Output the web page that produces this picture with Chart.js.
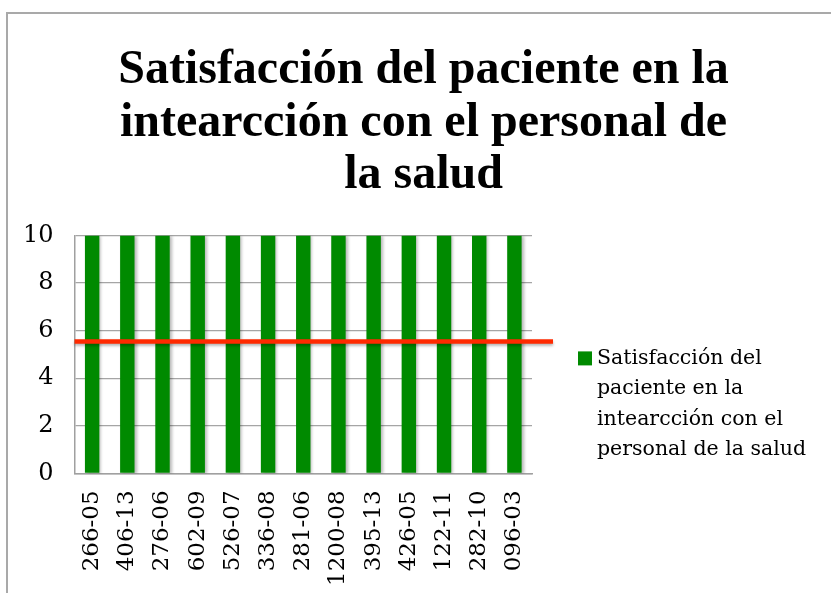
<!DOCTYPE html>
<html lang="es">
<head>
    <meta charset="UTF-8">
    <title>Satisfacción del paciente</title>
    <script src="https://cdn.jsdelivr.net/npm/chart.js"></script>
    <style>
        body { margin: 0; background: #ffffff; overflow: hidden; }
        #frame {
            position: absolute;
            left: 6px;
            top: 12px;
            width: 900px;
            height: 700px;
            border: 2px solid #a9a9a9;
        }
        #gcon {
            position: absolute;
            left: 0;
            top: 0;
            width: 831px;
            height: 593px;
        }
    </style>
</head>
<body>

    <div id="frame"></div>
    <div id="gcon">
        <canvas id="satChart"></canvas>
    </div>

<script>

// data
const categories = ["266-05", "406-13", "276-06", "602-09", "526-07", "336-08", "281-06",
                    "1200-08", "395-13", "426-05", "122-11", "282-10", "096-03"];
const satisfaction = [10, 10, 10, 10, 10, 10, 10, 10, 10, 10, 10, 10, 10];
const threshold = [5.54];

const seriesName = "Satisfacción del paciente en la intearcción con el personal de la salud";
const legendLines = ["Satisfacción del", "paciente en la", "intearcción con el", "personal de la salud"];
const titleLines = ["Satisfacción del paciente en la", "intearcción con el personal de", "la salud"];

const yMin = 0;
const yMax = 10;
const yStep = 2;

const barGreen = "#008a00";


// soft shadow under the bars, like the original
const shadowPlugin = {
    id: "shadow",
    beforeDatasetsDraw(chart) {
        const ctx = chart.ctx;
        ctx.save();
        ctx.shadowColor = "rgba(0, 0, 0, 0.28)";
        ctx.shadowBlur = 3;
        ctx.shadowOffsetX = 2;
        ctx.shadowOffsetY = 1;
    },
    afterDatasetsDraw(chart) {
        chart.ctx.restore();
    }
};

// red reference line, runs a bit past the plot on the right
const refLinePlugin = {
    id: "refLine",
    afterDatasetsDraw(chart) {
        const ctx = chart.ctx;
        const area = chart.chartArea;
        const y = chart.scales.y.getPixelForValue(threshold[0]);
        ctx.save();
        ctx.shadowColor = "rgba(0, 0, 0, 0.3)";
        ctx.shadowBlur = 3;
        ctx.shadowOffsetY = 2;
        ctx.strokeStyle = "#ff2a00";
        ctx.lineWidth = 4.5;
        ctx.beginPath();
        ctx.moveTo(area.left, y);
        ctx.lineTo(area.right + 21, y);
        ctx.stroke();
        ctx.restore();
    }
};

// the legend text wraps over four lines, the built-in legend can't get wide enough for it
const sideLegendPlugin = {
    id: "sideLegend",
    afterDraw(chart) {
        const ctx = chart.ctx;
        const area = chart.chartArea;
        const boxX = area.right + 46;
        let y = area.top + 123;
        ctx.save();
        ctx.fillStyle = chart.data.datasets[0].backgroundColor;
        ctx.fillRect(boxX, y - 7, 14, 14);
        ctx.fillStyle = "#000000";
        ctx.font = "20.5px 'DejaVu Serif', serif";
        ctx.textBaseline = "middle";
        legendLines.forEach(line => {
            ctx.fillText(line, boxX + 19, y);
            y += 30.5;
        });
        ctx.restore();
    }
};


const ctx = document.getElementById("satChart").getContext("2d");

const satChart = new Chart(ctx, {
    type: "bar",
    data: {
        labels: categories,
        datasets: [{
            label: seriesName,
            data: satisfaction,
            backgroundColor: barGreen,
            borderWidth: 0,
            categoryPercentage: 0.41,
            barPercentage: 1
        }]
    },
    options: {
        responsive: true,
        maintainAspectRatio: false,
        animation: false,
        layout: {
            padding: { left: 2, right: -14, top: 0, bottom: -10 }
        },
        plugins: {
            title: {
                display: true,
                text: titleLines,
                color: "#000000",
                font: { family: "'Liberation Serif', serif", size: 48, weight: "bold", lineHeight: 1.1 },
                padding: { top: 44, bottom: 33 }
            },
            legend: { display: false },
            tooltip: { enabled: false }
        },
        scales: {
            x: {
                grid: { display: false, drawTicks: false },
                border: { display: true, color: "#a0a0a0", width: 1.5 },
                ticks: {
                    color: "#000000",
                    minRotation: 90,
                    maxRotation: 90,
                    autoSkip: false,
                    padding: 17,
                    font: { family: "'DejaVu Serif', serif", size: 23 }
                }
            },
            y: {
                min: yMin,
                max: yMax,
                grid: { color: "#a5a5a5", lineWidth: 1.2, drawTicks: false },
                border: { display: true, color: "#a0a0a0", width: 1.5 },
                ticks: {
                    stepSize: yStep,
                    color: "#000000",
                    padding: 21,
                    font: { family: "'DejaVu Serif', serif", size: 24 }
                }
            },
            // empty right-hand strip that keeps room for the legend
            space: {
                type: "linear",
                position: "right",
                grid: { display: false },
                border: { display: false },
                ticks: { display: false },
                afterFit(scale) {
                    scale.width = 313;
                }
            }
        }
    },
    plugins: [shadowPlugin, refLinePlugin, sideLegendPlugin]
});

</script>
</body>
</html>
